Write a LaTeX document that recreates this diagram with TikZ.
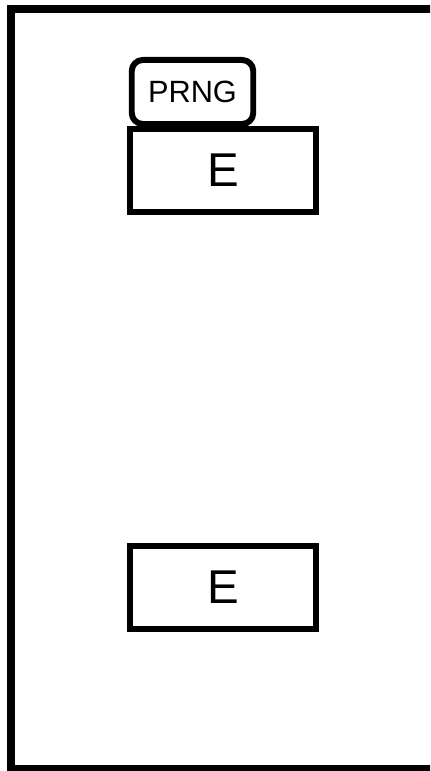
\documentclass[tikz,border=0pt]{standalone}
\usepackage{fontspec}
\setmainfont{Liberation Sans}
\usetikzlibrary{positioning}
\tikzset{
  every picture/.style={line join=round, line cap=round},
  frame/.style={line width=4pt},
  ebox/.style={draw, line width=3.5pt, line join=miter, minimum width=3.72cm, minimum height=1.66cm, inner sep=0pt, font=\fontsize{27}{30}\selectfont},
  prngbox/.style={draw, line width=3.4pt, rounded corners=0.22cm, minimum width=2.43cm, minimum height=1.28cm, inner sep=0pt, font=\fontsize{17.5}{21}\selectfont},
}

\begin{document}
\begin{tikzpicture}
\useasboundingbox (0,0) rectangle (8.6,15.42);
\begin{scope}
\clip (0,0) rectangle (8.6,15.42);
\draw[frame,line join=miter] (8.9,15.24)--(0.22,15.24)--(0.22,0.05)--(8.9,0.05);
\end{scope}
\node[ebox] (etop) at (4.46,12.01) {\raisebox{-0.09cm}{E}};
\node[ebox] (ebot) at (4.46,3.67) {\raisebox{-0.09cm}{E}};
\node[prngbox] (prng) at (3.85,13.58) {\raisebox{-0.06cm}{PRNG}};
\end{tikzpicture}
\end{document}
